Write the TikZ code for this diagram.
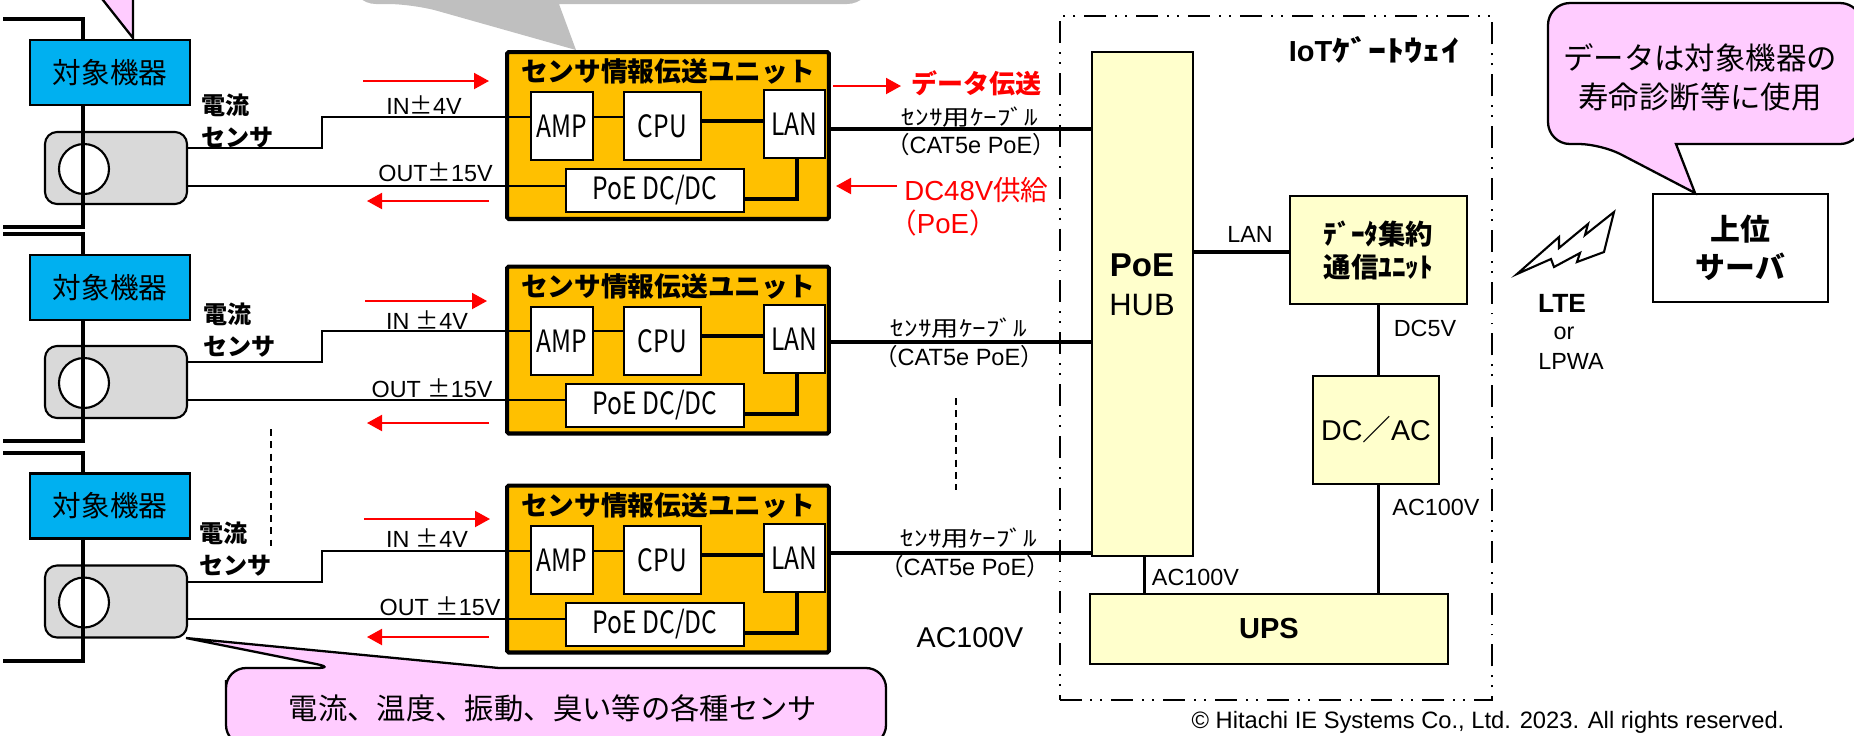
\documentclass[tikz,border=0pt]{standalone}
\usepackage{fontspec}
\setmainfont{Liberation Sans}
\newfontfamily\jpfont{Noto Sans CJK JP}
\newfontfamily\gothfont[FakeStretch=0.8]{Noto Sans CJK JP}
\newfontfamily\hanfont[FakeStretch=1.25]{Noto Sans CJK JP}
\usetikzlibrary{positioning,shapes.geometric,arrows.meta}
\definecolor{eqblue}{HTML}{00B0F0}
\definecolor{unitorange}{HTML}{FFC000}
\definecolor{paleyellow}{HTML}{FFFFCC}
\definecolor{sensgray}{HTML}{D9D9D9}
\definecolor{callpink}{HTML}{FFCCFF}
\definecolor{callgray}{HTML}{BFBFBF}
\newcommand{\jp}[1]{{\jpfont #1}}

\begin{document}
\begin{tikzpicture}[
  x=0.02cm,y=-0.02cm,
  box/.style={draw,outer sep=0pt,inner sep=0pt,line width=1.2pt},
  eqbox/.style={box,fill=eqblue,minimum width=3.2cm,minimum height=1.3cm,font=\jpfont\fontsize{16.3}{18}\selectfont},
  sensbox/.style={box,fill=sensgray,rounded corners=0.24cm,minimum width=2.84cm,minimum height=1.44cm},
  hole/.style={draw,ellipse,fill=white,outer sep=0pt,inner sep=0pt,line width=1.2pt,minimum width=1cm,minimum height=1cm},
  unitbox/.style={box,line width=2.3pt,rounded corners=1pt,fill=unitorange,minimum width=6.44cm,minimum height=3.34cm},
  inbox/.style={box,fill=white,minimum height=1.36cm,font=\gothfont\fontsize{17.5}{20}\selectfont},
  yelbox/.style={box,fill=paleyellow},
  lab/.style={inner sep=0pt,font=\fontsize{13.3}{16}\selectfont},
  senslab/.style={inner sep=0pt,anchor=west,align=left,font=\jpfont\bfseries\fontsize{13.7}{18.2}\selectfont},
  titlelab/.style={inner sep=0pt,font=\jpfont\bfseries\fontsize{15.2}{17}\selectfont},
  cablab/.style={inner sep=0pt,font=\hanfont\fontsize{12.4}{15}\selectfont},
  catlab/.style={inner sep=0pt,font=\fontsize{13.4}{16}\selectfont},
  wire/.style={line width=1.14pt},
  fatwire/.style={line width=2.3pt},
  bus/.style={line width=2pt},
  redarrow/.style={red,line width=1.14pt,-{Triangle[length=0.3cm,width=0.32cm]}},
  dashline/.style={line width=0.8pt,dash pattern=on 4pt off 3pt},
  pinkcall/.style={draw,fill=callpink,line width=1.3pt}
]
\useasboundingbox (0,0) rectangle (1854,735);
% callouts
\fill[callgray] (351,-30) [rounded corners=0.5cm] |- (413,4) [sharp corners] -- (576,50) -- (559,4) [rounded corners=0.5cm] -| (872,-30) -- cycle;
\draw[pinkcall] (99,-5) -- (133,38) -- (133,-5);
\draw[pinkcall] (1548,60) [rounded corners=0.44cm] |- (1601,144) [sharp corners] -- (1695,193) -- (1676,144) [rounded corners=0.44cm] -| (1862,60) |- (1700,3) -| (1548,60) -- cycle;
\draw[pinkcall] (226,700) [rounded corners=0.4cm] |- (336,668) [sharp corners] -- (186,638) -- (499,668) [rounded corners=0.4cm] -| (886,745) -| (226,700) -- cycle;
\node[inner sep=0pt,align=center,font=\jpfont\fontsize{17.3}{22}\selectfont] (NoteUse) at (1700,77.5) {データは対象機器の\\寿命診断等に使用};
\node[inner sep=0pt,font=\jpfont\fontsize{16.7}{18}\selectfont] (NoteSens) at (553,708) {電流、温度、振動、臭い等の各種センサ};

% gateway
\node[draw,outer sep=0pt,line width=1.14pt,dash pattern=on 12.5pt off 5.1pt on 1.1pt off 4.6pt on 1.1pt off 5.1pt,minimum width=8.66cm,minimum height=13.68cm] (GW) at (1276,358) {};
\node[inner sep=0pt,font=\bfseries\fontsize{16.5}{18}\selectfont] (GWlab) at (1374,50) {IoT{\hanfont ｹﾞｰﾄｳｪｲ}};
\node[yelbox,minimum width=2.02cm,minimum height=10.08cm] (HUB) at (1142.5,304) {};
\node[inner sep=0pt,font=\bfseries\fontsize{18.8}{20}\selectfont] (HUBa) at (1142,265) {PoE};
\node[inner sep=0pt,font=\fontsize{17.6}{20}\selectfont] (HUBb) at (1142,305) {HUB};
\node[yelbox,minimum width=3.54cm,minimum height=2.16cm,align=center,font=\jpfont\bfseries\fontsize{15.6}{18.8}\selectfont] (Data) at (1378.5,250) {ﾃﾞｰﾀ集約\\通信ﾕﾆｯﾄ};
\node[yelbox,minimum width=2.53cm,minimum height=2.16cm,font=\fontsize{16.3}{18}\selectfont] (DCAC) at (1376,430) {DC\jp{／}AC};
\node[yelbox,minimum width=7.16cm,minimum height=1.4cm,font=\bfseries\fontsize{16.5}{18}\selectfont] (UPS) at (1269,629) {UPS};
\node[box,minimum width=3.5cm,minimum height=2.16cm,align=center,font=\jpfont\bfseries\fontsize{17}{21.6}\selectfont] (Server) at (1740.5,248) {上位\\サーバ};
\draw[fatwire] ([yshift=-0.04cm]Data.west) -- ([yshift=-0.04cm]Data.west -| HUB.east);
\draw[line width=1.7pt] ([xshift=0.04cm]HUB.south) -- ([xshift=0.04cm]HUB.south |- UPS.north);
\draw[line width=1.7pt] (Data.south) -- (Data.south |- DCAC.north);
\draw[line width=1.7pt] (Data.south |- DCAC.south) -- (Data.south |- UPS.north);
\node[lab] (LANlab) at (1250,234) {LAN};
\node[lab] (DCfive) at (1425,328) {DC5V};
\node[lab] (ACa) at (1436,507) {AC100V};
\node[lab] (ACb) at (1195.5,577) {AC100V};
\node[inner sep=0pt,font=\fontsize{16.3}{18}\selectfont] (ACc) at (970,638) {AC100V};
\node[inner sep=0pt,font=\bfseries\fontsize{15}{18}\selectfont] (LTE) at (1562,303) {LTE};
\node[lab] (Or) at (1564,333) {or};
\node[lab] (LPWA) at (1571,361) {LPWA};
\draw[line width=1.2pt,fill=white,line join=miter] (1517,274) -- (1559,237) -- (1559,248) -- (1588,224) -- (1585,235) -- (1614,212) -- (1604,252) -- (1577,262) -- (1580,253) -- (1554,267) -- (1551,259) -- cycle;
\node[inner sep=0pt,font=\fontsize{13.5}{15}\selectfont] (Copy) at (1488,722) {© Hitachi IE Systems Co., Ltd. 2023. All rights reserved.};

% first line
\node[eqbox] (Eq1) at (110,72.5) {対象機器};
\node[sensbox] (Sen1) at (116,168) {};
\node[hole] (Ring1) at (84,169) {};
\coordinate (BusA1) at (3,19);
\coordinate (BusB1) at (3,227);
\draw[bus] (BusA1) -| ([xshift=-0.54cm]Eq1.north);
\draw[bus] ([xshift=-0.54cm]Eq1.south) |- (BusB1);
\node[senslab] (SenLab1) at (201,121) {電流\\センサ};
\node[unitbox] (Unit1) at (668,135.5) {};
\node[titlelab] (Title1) at (668,71) {センサ情報伝送ユニット};
\node[inbox,minimum width=1.24cm] (AMP1) at (562,126) {AMP};
\node[inbox,minimum width=1.54cm,right=0.62cm of AMP1] (CPU1) {CPU};
\node[inbox,minimum width=1.22cm,right=1.26cm of CPU1,yshift=0.04cm] (LAN1) {LAN};
\node[inbox,minimum width=3.56cm,minimum height=0.86cm] (PoE1) at (655,190.5) {PoE DC/DC};
\coordinate (InS1) at (187,148);
\coordinate (InJ1) at (322,117);
\coordinate (InA1) at (531,117);
\coordinate (OutS1) at (187,186);
\coordinate (Cab1) at (829,129);
\draw[wire] (InS1) -| (InJ1) -- (InA1);
\draw[wire] (AMP1.east |- InA1) -- (CPU1.west |- InA1);
\draw[wire] (OutS1) -- (OutS1 -| PoE1.west);
\draw[fatwire] ([yshift=0.1cm]CPU1.east) -- ([yshift=0.1cm]CPU1.east -| LAN1.west);
\draw[fatwire] ([xshift=0.05cm]LAN1.south) |- ([yshift=-0.17cm]PoE1.east);
\draw[fatwire] (Cab1) -- (Cab1 -| HUB.west);
\node[lab] (InLab1) at (424,105) {IN\jp{±}4V};
\node[lab] (OutLab1) at (435.5,172) {OUT\jp{±}15V};
\node[cablab] (CabLab1) at (970,117) {ｾﾝｻ用ｹｰﾌﾞﾙ};
\node[catlab] (CatLab1) at (971,145) {\jp{（}CAT5e PoE\jp{）}};
\coordinate (RedA1) at (363,81);
\coordinate (RedB1) at (489,81);
\coordinate (RedC1) at (489,201);
\coordinate (RedD1) at (367,201);
\coordinate (RedE1) at (833,86);
\coordinate (RedF1) at (901,86);
\coordinate (RedG1) at (897,186);
\coordinate (RedH1) at (836,186);
\draw[redarrow] (RedA1) -- (RedB1);
\draw[redarrow] (RedC1) -- (RedD1);
\draw[redarrow] (RedE1) -- (RedF1);
\draw[redarrow] (RedG1) -- (RedH1);
\node[red,inner sep=0pt,font=\jpfont\bfseries\fontsize{14.8}{17}\selectfont] (DataLab) at (976,83) {データ伝送};
\node[red,inner sep=0pt,anchor=west,font=\fontsize{15.7}{18}\selectfont] (DCLab) at (904,190) {DC48V\jp{供給}};
\node[red,inner sep=0pt,anchor=west,font=\fontsize{15.7}{18}\selectfont] (PoELab) at (889,223) {\jp{（}PoE\jp{）}};

% second line
\node[eqbox] (Eq2) at (110,287.5) {対象機器};
\node[sensbox] (Sen2) at (116,382) {};
\node[hole] (Ring2) at (84,383) {};
\coordinate (BusA2) at (3,234);
\coordinate (BusB2) at (3,441);
\draw[bus] (BusA2) -| ([xshift=-0.54cm]Eq2.north);
\draw[bus] ([xshift=-0.54cm]Eq2.south) |- (BusB2);
\node[senslab] (SenLab2) at (203,330) {電流\\センサ};
\node[unitbox] (Unit2) at (668,350) {};
\node[titlelab] (Title2) at (668,286) {センサ情報伝送ユニット};
\node[inbox,minimum width=1.24cm] (AMP2) at (562,341) {AMP};
\node[inbox,minimum width=1.54cm,right=0.62cm of AMP2] (CPU2) {CPU};
\node[inbox,minimum width=1.22cm,right=1.26cm of CPU2,yshift=0.04cm] (LAN2) {LAN};
\node[inbox,minimum width=3.56cm,minimum height=0.86cm] (PoE2) at (655,405.5) {PoE DC/DC};
\coordinate (InS2) at (187,362);
\coordinate (InJ2) at (322,331);
\coordinate (InA2) at (531,331);
\coordinate (OutS2) at (187,400);
\coordinate (Cab2) at (829,342);
\draw[wire] (InS2) -| (InJ2) -- (InA2);
\draw[wire] (AMP2.east |- InA2) -- (CPU2.west |- InA2);
\draw[wire] (OutS2) -- (OutS2 -| PoE2.west);
\draw[fatwire] ([yshift=0.1cm]CPU2.east) -- ([yshift=0.1cm]CPU2.east -| LAN2.west);
\draw[fatwire] ([xshift=0.05cm]LAN2.south) |- ([yshift=-0.17cm]PoE2.east);
\draw[fatwire] (Cab2) -- (Cab2 -| HUB.west);
\node[lab] (InLab2) at (427,320) {IN \jp{±}4V};
\node[lab] (OutLab2) at (432,388) {OUT \jp{±}15V};
\node[cablab] (CabLab2) at (959,328) {ｾﾝｻ用ｹｰﾌﾞﾙ};
\node[catlab] (CatLab2) at (959,357) {\jp{（}CAT5e PoE\jp{）}};
\coordinate (RedA2) at (365,301);
\coordinate (RedB2) at (487,301);
\coordinate (RedC2) at (489,423);
\coordinate (RedD2) at (367,423);
\draw[redarrow] (RedA2) -- (RedB2);
\draw[redarrow] (RedC2) -- (RedD2);

% third line
\node[eqbox] (Eq3) at (110,506) {対象機器};
\node[sensbox] (Sen3) at (116,601.5) {};
\node[hole] (Ring3) at (84,602.5) {};
\coordinate (BusA3) at (3,453);
\coordinate (BusB3) at (3,661);
\draw[bus] (BusA3) -| ([xshift=-0.54cm]Eq3.north);
\draw[bus] ([xshift=-0.54cm]Eq3.south) |- (BusB3);
\node[senslab] (SenLab3) at (199,549.5) {電流\\センサ};
\node[unitbox] (Unit3) at (668,569) {};
\node[titlelab] (Title3) at (668,505) {センサ情報伝送ユニット};
\node[inbox,minimum width=1.24cm] (AMP3) at (562,560) {AMP};
\node[inbox,minimum width=1.54cm,right=0.62cm of AMP3] (CPU3) {CPU};
\node[inbox,minimum width=1.22cm,right=1.26cm of CPU3,yshift=0.04cm] (LAN3) {LAN};
\node[inbox,minimum width=3.56cm,minimum height=0.86cm] (PoE3) at (655,624.5) {PoE DC/DC};
\coordinate (InS3) at (187,582);
\coordinate (InJ3) at (322,551);
\coordinate (InA3) at (531,551);
\coordinate (OutS3) at (187,619);
\coordinate (Cab3) at (829,553);
\draw[wire] (InS3) -| (InJ3) -- (InA3);
\draw[wire] (AMP3.east |- InA3) -- (CPU3.west |- InA3);
\draw[wire] (OutS3) -- (OutS3 -| PoE3.west);
\draw[fatwire] ([yshift=0.1cm]CPU3.east) -- ([yshift=0.1cm]CPU3.east -| LAN3.west);
\draw[fatwire] ([xshift=0.05cm]LAN3.south) |- ([yshift=-0.17cm]PoE3.east);
\draw[fatwire] (Cab3) -- (Cab3 -| HUB.west);
\node[lab] (InLab3) at (427,538) {IN \jp{±}4V};
\node[lab] (OutLab3) at (440,606) {OUT \jp{±}15V};
\node[cablab] (CabLab3) at (969,538) {ｾﾝｻ用ｹｰﾌﾞﾙ};
\node[catlab] (CatLab3) at (965,567) {\jp{（}CAT5e PoE\jp{）}};
\coordinate (RedA3) at (364,519);
\coordinate (RedB3) at (490,519);
\coordinate (RedC3) at (489,637);
\coordinate (RedD3) at (367,637);
\draw[redarrow] (RedA3) -- (RedB3);
\draw[redarrow] (RedC3) -- (RedD3);

% the two dashed marks
\coordinate (DashA) at (271,429);
\coordinate (DashB) at (271,546);
\coordinate (DashC) at (956,398);
\coordinate (DashD) at (956,490);
\draw[dashline] (DashA) -- (DashB);
\draw[dashline] (DashC) -- (DashD);
\end{tikzpicture}
\end{document}
